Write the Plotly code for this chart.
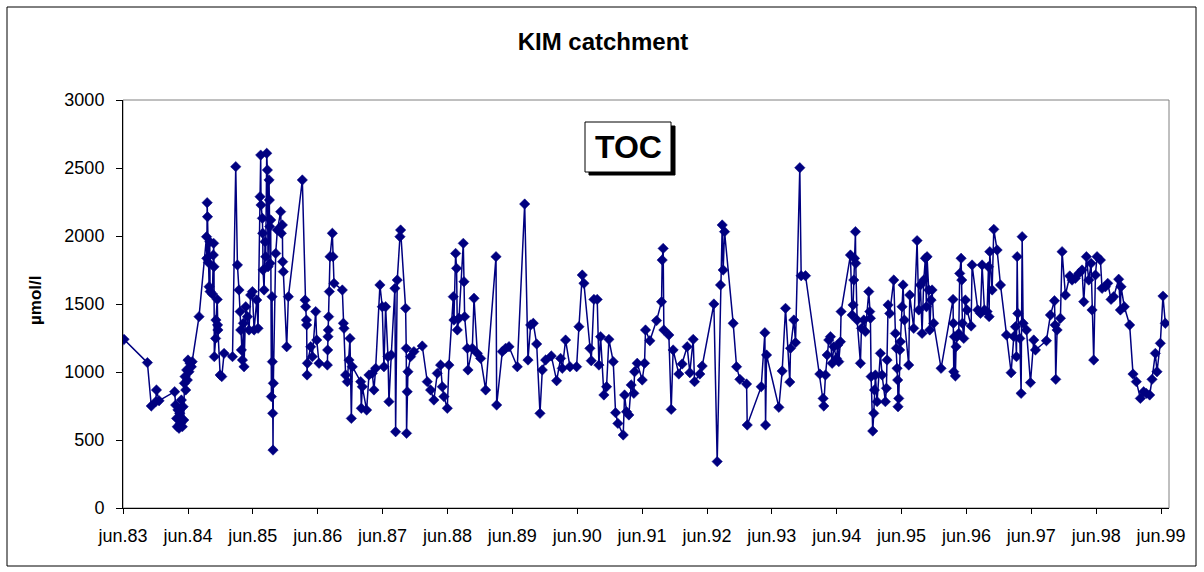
import plotly.graph_objects as go
from datetime import datetime, timedelta

# ---- data (decimal years, TOC in µmol/l) ----
years_83_85 = [1983.327, 1983.43, 1983.79, 1983.85, 1983.92, 1983.93, 1983.97,
    1984.21, 1984.225, 1984.24, 1984.25, 1984.26, 1984.277, 1984.287, 1984.30, 1984.313, 1984.328,
    1984.34, 1984.35, 1984.36, 1984.37, 1984.38, 1984.395, 1984.405, 1984.415, 1984.43, 1984.446,
    1984.467, 1984.48, 1984.585,
    1984.70, 1984.705, 1984.71, 1984.715, 1984.73, 1984.74, 1984.75, 1984.755, 1984.79, 1984.805,
    1984.81, 1984.815, 1984.82, 1984.84, 1984.845, 1984.865, 1984.87, 1984.875, 1984.91, 1984.935, 1984.97]
toc_83_85 = [1064, 1240, 1069, 750, 782, 868, 789,
    855, 757, 659, 598, 721, 586, 696, 622, 794, 598,
    745, 647, 917, 966, 868, 1015, 941, 1088, 1002, 1064,
    1039, 1076, 1407,
    1995, 1836, 2245, 2142, 1804, 1627, 1958, 1591, 1574, 1860,
    1946, 1774, 1113, 1247, 1382, 1534, 1346, 1309, 978, 966, 1137]

years_85_86 = [1985.10, 1985.15, 1985.176, 1985.20, 1985.217, 1985.227, 1985.237, 1985.253, 1985.268, 1985.278,
    1985.304, 1985.33, 1985.355, 1985.38, 1985.407, 1985.433, 1985.474, 1985.494, 1985.525, 1985.535,
    1985.54, 1985.561, 1985.566, 1985.571, 1985.587, 1985.602, 1985.612, 1985.628, 1985.638, 1985.648,
    1985.664, 1985.669, 1985.674, 1985.679, 1985.689, 1985.70, 1985.71, 1985.715, 1985.72, 1985.725,
    1985.73, 1985.766, 1985.792, 1985.843, 1985.853, 1985.869, 1985.874, 1985.884, 1985.936, 1985.962,
    1986.177]
toc_85_86 = [1113, 2510, 1787, 1603, 1444, 1309, 1162, 1088, 1358, 1039,
    1480, 1407, 1309, 1566, 1591, 1309, 1529, 1321, 2289, 2595,
    2228, 2130, 2020, 1750, 1603, 1958, 1848, 2608, 2485, 1774,
    2412, 2265, 2069, 1799, 2118, 819, 1554, 1076, 696, 426,
    917, 1872, 2044, 2179, 2020, 2081, 1811, 1738, 1186, 1554,
    2412]

years_86_89 = [1986.219, 1986.229, 1986.24, 1986.244, 1986.25, 1986.255, 1986.306, 1986.332, 1986.383, 1986.399,
    1986.435, 1986.563, 1986.568, 1986.573, 1986.578, 1986.583, 1986.594, 1986.604, 1986.64, 1986.65,
    1986.666, 1986.794, 1986.81, 1986.82, 1986.845, 1986.871, 1986.897, 1986.912, 1986.933, 1986.948,
    1987.077, 1987.087, 1987.102, 1987.169, 1987.205, 1987.256, 1987.282, 1987.308, 1987.374, 1987.41,
    1987.436, 1987.462, 1987.498, 1987.513, 1987.549, 1987.605, 1987.616, 1987.641, 1987.683, 1987.693,
    1987.77, 1987.78, 1987.785, 1987.795, 1987.806, 1987.847, 1987.898, 1988.027, 1988.104, 1988.155,
    1988.206, 1988.258, 1988.309, 1988.335, 1988.36, 1988.412, 1988.437, 1988.504, 1988.514, 1988.54,
    1988.555, 1988.566, 1988.592, 1988.658, 1988.669, 1988.679, 1988.72, 1988.73, 1988.797, 1988.823,
    1988.874, 1988.925, 1989.002, 1989.162, 1989.172, 1989.259, 1989.31, 1989.362, 1989.49]
toc_86_89 = [1529, 1480, 1382, 1346, 978, 1064, 1186, 1113, 1444, 1235,
    1064, 1051, 1162, 1260, 1309, 1407, 1591, 1848, 2020, 1848,
    1652, 1603, 1358, 1321, 978, 929, 1088, 1247, 659, 1039,
    929, 733, 892, 720, 978, 990, 868, 1027, 1640, 1480,
    1039, 1480, 1113, 782, 1125, 1615, 561, 1676, 1995, 2044,
    1468, 1174, 549, 855, 1002, 1113, 1150, 1191, 929, 868,
    794, 990, 1051, 892, 819, 733, 1051, 1554, 1382, 1872,
    1762, 1309, 1395, 1946, 1664, 1407, 1174, 1015, 1174, 1542,
    1137, 1100, 868, 1848, 757, 1150, 1174, 1186, 1039]

years_89_92 = [1989.604, 1989.655, 1989.696, 1989.737, 1989.789, 1989.84, 1989.876, 1989.927, 1990.015, 1990.097,
    1990.158, 1990.184, 1990.235, 1990.302, 1990.405, 1990.441, 1990.492, 1990.518, 1990.61, 1990.631,
    1990.672, 1990.723, 1990.749, 1990.775, 1990.826, 1990.867, 1990.903, 1990.97, 1991.006, 1991.042,
    1991.124, 1991.145, 1991.175, 1991.211, 1991.247, 1991.288, 1991.299, 1991.34, 1991.417, 1991.453,
    1991.468, 1991.535, 1991.638, 1991.715, 1991.725, 1991.74, 1991.751, 1991.828, 1991.864, 1991.894,
    1991.982, 1992.033, 1992.11, 1992.151, 1992.203, 1992.223, 1992.305, 1992.341, 1992.521]
toc_89_92 = [2235, 1088, 1346, 1358, 1206, 696, 1015, 1088, 1118, 936,
    1100, 1027, 1235, 1039, 1039, 1333, 1713, 1652, 1174, 1083,
    1534, 1534, 1051, 1260, 831, 892, 1240, 1076, 701, 622,
    537, 831, 708, 684, 905, 843, 1002, 1064, 941, 1064,
    1309, 1230, 1378, 1517, 1823, 1909, 1309, 1272, 725, 1162,
    985, 1059, 1186, 995, 1240, 929, 985, 1044, 1500]

years_92_95 = [1992.572, 1992.623, 1992.649, 1992.664, 1992.685, 1992.818, 1992.87, 1992.921, 1993.024, 1993.034,
    1993.25, 1993.306, 1993.317, 1993.332, 1993.522, 1993.573, 1993.625, 1993.691, 1993.702, 1993.753,
    1993.779, 1993.845, 1993.866, 1993.933, 1994.154, 1994.205, 1994.215, 1994.241, 1994.267, 1994.292,
    1994.318, 1994.344, 1994.369, 1994.41, 1994.431, 1994.446, 1994.472, 1994.482, 1994.626, 1994.652,
    1994.667, 1994.678, 1994.688, 1994.703, 1994.708, 1994.729, 1994.78, 1994.796, 1994.832, 1994.857,
    1994.909, 1994.924, 1994.934, 1994.945, 1994.97, 1994.986, 1994.996, 1995.011, 1995.037, 1995.088,
    1995.114, 1995.165, 1995.181, 1995.191, 1995.207, 1995.232, 1995.294, 1995.32, 1995.335, 1995.345,
    1995.355, 1995.36, 1995.371, 1995.386, 1995.397, 1995.422, 1995.438, 1995.458, 1995.525, 1995.541,
    1995.602]
toc_92_95 = [341, 1640, 2081, 1750, 2032, 1358, 1039, 946, 912, 610,
    892, 1289, 610, 1125, 740, 1007, 1468, 926, 1174, 1382,
    1216, 2502, 1708, 1708, 985, 806, 750, 978, 1125, 1235,
    1260, 1064, 1186, 1100, 1199, 1076, 1223, 1444, 1860, 1419,
    1493, 1676, 1836, 2032, 1799, 1382, 1064, 1321, 1382, 1297,
    1591, 1444, 1395, 966, 566, 696, 868, 978, 782, 1137,
    978, 782, 880, 1088, 1493, 1431, 1676, 1284, 1174, 1027,
    941, 745, 806, 1162, 1223, 1480, 1640, 1382, 1051, 1566,
    1321]

years_95_99 = [1995.654, 1995.68, 1995.705, 1995.731, 1995.757, 1995.782, 1995.798, 1995.808, 1995.834, 1995.849,
    1995.87, 1995.885, 1995.91, 1996.024, 1996.208, 1996.214, 1996.219, 1996.229, 1996.244, 1996.255,
    1996.27, 1996.296, 1996.311, 1996.332, 1996.342, 1996.352, 1996.373, 1996.398, 1996.424, 1996.486,
    1996.501, 1996.589, 1996.63, 1996.655, 1996.691, 1996.732, 1996.753, 1996.763, 1996.773, 1996.809,
    1996.835, 1996.886, 1996.938, 1997.03, 1997.102, 1997.143, 1997.169, 1997.184, 1997.195, 1997.205,
    1997.236, 1997.256, 1997.272, 1997.287, 1997.338, 1997.40, 1997.451, 1997.477, 1997.646, 1997.708,
    1997.77, 1997.78, 1997.79, 1997.811, 1997.862, 1997.888, 1997.939, 1998.006, 1998.042, 1998.093,
    1998.145, 1998.196, 1998.222, 1998.263, 1998.299, 1998.335, 1998.35, 1998.376, 1998.402, 1998.427,
    1998.479, 1998.504, 1998.556, 1998.592, 1998.643, 1998.684, 1998.761, 1998.787, 1998.797, 1998.848,
    1998.93, 1998.982, 1999.033, 1999.095, 1999.146, 1999.187, 1999.239, 1999.275, 1999.326, 1999.352,
    1999.403, 1999.444, 1999.48]
toc_95_99 = [1966, 1456, 1640, 1284, 1676, 1836, 1480, 1848, 1603, 1309,
    1529, 1603, 1358, 1027, 1534, 1358, 1002, 1260, 971, 1186,
    1260, 1284, 1725, 1836, 1676, 1358, 1247, 1529, 1456, 1338,
    1787, 1456, 1431, 1787, 1456, 1444, 1774, 1407, 1885, 1603,
    2049, 1897, 1640, 1272, 995, 1260, 1333, 1113, 1848, 1431,
    1247, 843, 1995, 1358, 1309, 922, 1235, 1162, 1230, 1419,
    1524, 1346, 946, 1309, 1395, 1885, 1566, 1706, 1676, 1689,
    1725, 1750, 1517, 1848, 1676, 1799, 1456, 1088, 1713, 1848,
    1823, 1615, 1627, 1652, 1534, 1554, 1682, 1456, 1627, 1480,
    1346, 985, 929, 806, 855, 843, 831, 946, 1137, 1002,
    1211, 1558, 1358]

tick_years = list(range(1983, 2000))
tick_labels = ["jun.83", "jun.84", "jun.85", "jun.86", "jun.87", "jun.88", "jun.89", "jun.90",
               "jun.91", "jun.92", "jun.93", "jun.94", "jun.95", "jun.96", "jun.97", "jun.98", "jun.99"]


def to_dt(y):
    yr = int(y)
    start = datetime(yr, 1, 1)
    ndays = (datetime(yr + 1, 1, 1) - start).days
    return start + timedelta(days=(y - yr) * ndays)


years = years_83_85 + years_85_86 + years_86_89 + years_89_92 + years_92_95 + years_95_99
toc = toc_83_85 + toc_85_86 + toc_86_89 + toc_89_92 + toc_92_95 + toc_95_99
assert len(years) == len(toc)
dates = [to_dt(y) for y in years]
tickvals = [datetime(y, 6, 1) for y in tick_years]
xrange = [datetime(1983, 6, 1), datetime(1999, 7, 16)]

FONT = "Liberation Sans, Arial, sans-serif"
NAVY = "#000080"

fig = go.Figure()
fig.add_trace(go.Scatter(
    x=dates, y=toc, mode="lines+markers",
    line=dict(color=NAVY, width=1.5),
    marker=dict(symbol="diamond", size=8, color=NAVY, line=dict(color=NAVY, width=0.5)),
    showlegend=False, cliponaxis=True,
))

W, H = 1204, 572
L, R, T, B = 123, W - 1169, 100, H - 508
pw, ph = W - L - R, H - T - B


def px_x(px):
    return (px - L) / pw


def px_y(py):
    return (H - B - py) / ph


fig.update_layout(
    width=W, height=H, autosize=False,
    margin=dict(l=L, r=R, t=T, b=B),
    paper_bgcolor="white", plot_bgcolor="white",
    font=dict(family=FONT, size=18, color="black"),
    title=dict(text="<b>KIM catchment</b>", x=px_x(603), xref="paper", xanchor="center",
               y=1 - 42 / H, yanchor="middle", yref="container",
               font=dict(family=FONT, size=24, color="black")),
    xaxis=dict(type="date", range=xrange, tickvals=tickvals, ticktext=tick_labels,
               ticks="outside", ticklen=5, tickcolor="black", tickwidth=1,
               showline=True, linecolor="black", linewidth=1, showgrid=False, zeroline=False,
               tickfont=dict(family=FONT, size=18, color="black"), ticklabelstandoff=6),
    xaxis2=dict(type="date", range=xrange, tickvals=tickvals, overlaying="x", anchor="y",
                side="bottom", ticks="inside", ticklen=7, tickcolor="black", tickwidth=1,
                showticklabels=False, showline=False, showgrid=False, zeroline=False),
    yaxis=dict(range=[0, 3000], tickvals=[0, 500, 1000, 1500, 2000, 2500, 3000],
               ticks="outside", ticklen=6, tickcolor="black", tickwidth=1,
               showline=True, linecolor="black", linewidth=1, showgrid=False, zeroline=False,
               tickfont=dict(family=FONT, size=18, color="black"), ticklabelstandoff=8),
)

shapes = [
    # outer chart frame
    dict(type="rect", xref="paper", yref="paper", x0=px_x(7), x1=px_x(1196), y0=px_y(566), y1=px_y(7),
         line=dict(color="black", width=1), fillcolor="rgba(0,0,0,0)", layer="below"),
    # plot-area border
    dict(type="rect", xref="paper", yref="paper", x0=0, x1=1, y0=0, y1=1,
         line=dict(color="#808080", width=1), fillcolor="rgba(0,0,0,0)", layer="below"),
    # TOC box shadow
    dict(type="rect", xref="paper", yref="paper", x0=px_x(589), x1=px_x(675), y0=px_y(175), y1=px_y(126),
         line=dict(color="black", width=1), fillcolor="black", layer="above"),
    # TOC box
    dict(type="rect", xref="paper", yref="paper", x0=px_x(585), x1=px_x(671), y0=px_y(172), y1=px_y(122),
         line=dict(color="black", width=1), fillcolor="white", layer="above"),
]
fig.update_layout(shapes=shapes)

fig.add_annotation(text="<b>TOC</b>", xref="paper", yref="paper", x=px_x(628), y=px_y(147),
                   xanchor="center", yanchor="middle", showarrow=False,
                   font=dict(family=FONT, size=32, color="black"))
fig.add_annotation(text="<b>µmol/l</b>", xref="paper", yref="paper", x=px_x(35), y=px_y(301),
                   xanchor="center", yanchor="middle", showarrow=False, textangle=-90,
                   font=dict(family=FONT, size=17, color="black"))

# remove the default page margin so the figure sits at the window origin
fig.write_html("out.html", config={"displayModeBar": False},
               post_script="document.body.style.margin='0';document.body.style.overflow='hidden';")
